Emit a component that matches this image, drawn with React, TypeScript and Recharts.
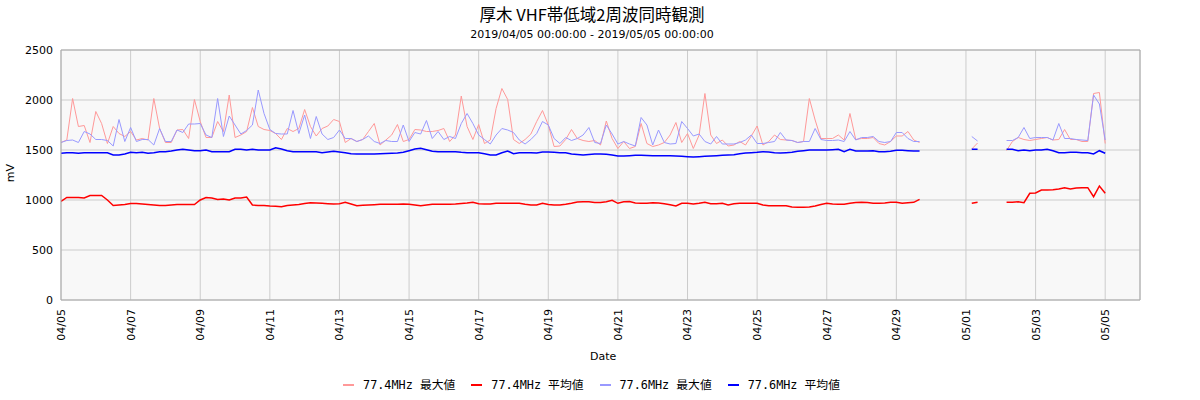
import React from "react";
import { LineChart, Line, XAxis, YAxis, CartesianGrid, ReferenceLine } from "recharts";

const TITLE = "厚木 VHF帯低域2周波同時観測";
const SUBTITLE = "2019/04/05 00:00:00 - 2019/05/05 00:00:00";
const X_LABEL = "Date";
const Y_LABEL = "mV";

const TICK_LABELS = ["04/05", "04/07", "04/09", "04/11", "04/13", "04/15", "04/17", "04/19", "04/21", "04/23", "04/25", "04/27", "04/29", "05/01", "05/03", "05/05"];
const Y_TICKS = [0, 500, 1000, 1500, 2000, 2500];
const STEP_HOURS = 4;
const TICK_STEP_HOURS = 48;
const X_MAX_HOURS = 744;

const SERIES_NAMES = ["77.4MHz 最大値", "77.4MHz 平均値", "77.6MHz 最大値", "77.6MHz 平均値"];
const SERIES_COLORS = ["#ff9999", "#ff0000", "#9999ff", "#0000ff"];

const N8 = [null, null, null, null, null, null, null, null];
const N4 = [null, null, null, null];

const max774 = [
  1575, 1600, 2015, 1735, 1745, 1575, 1885, 1765, 1565, 1735,
  1665, 1635, 1685, 1600, 1615, 1600, 2015, 1715, 1575, 1575,
  1700, 1705, 1615, 2005, 1785, 1625, 1625, 1785, 1685, 2050,
  1625, 1650, 1685, 1925, 1735, 1705, 1695, 1665, 1605, 1715,
  1685, 1715, 1905, 1735, 1640, 1715, 1740, 1805, 1785, 1575,
  1615, 1585, 1605, 1685, 1765, 1550, 1600, 1650, 1755, 1585,
  1605, 1705, 1700, 1685, 1685, 1695, 1715, 1585, 1650, 2040,
  1735, 1605, 1755, 1565, 1600, 1915, 2115, 2005, 1605, 1565,
  1605, 1660, 1785, 1895, 1750, 1535, 1540, 1605, 1705, 1615,
  1595, 1585, 1595, 1550, 1790, 1615, 1515, 1585, 1515, 1535,
  1765, 1565, 1535, 1550, 1575, 1650, 1775, 1575, 1665, 1515,
  1650, 2065, 1650, 1565, 1600, 1540, 1550, 1585, 1550, 1640,
  1740, 1550, 1585, 1650, 1605, 1600, 1595, 1575, 1585, 2015,
  1800, 1615, 1615, 1615, 1650, 1600, 1865, 1605, 1615, 1615,
  1625, 1565, 1550, 1585, 1640, 1640, 1685, 1600, 1575,
  ...N8,
  1510, 1570,
  ...N4,
  1495, 1585, 1625, 1605, 1595, 1605, 1615, 1625, 1600, 1605,
  1705, 1605, 1605, 1585, 1585, 2065, 2075, 1565,
];

const avg774 = [
  985, 1025, 1025, 1025, 1020, 1045, 1045, 1045, 1000, 945,
  950, 955, 965, 965, 960, 955, 950, 945, 945, 950,
  955, 955, 955, 955, 1000, 1025, 1020, 1005, 1010, 1000,
  1020, 1020, 1030, 950, 945, 945, 940, 937, 933, 945,
  950, 955, 965, 973, 970, 967, 963, 960, 963, 977,
  960, 943, 947, 950, 953, 957, 957, 957, 957, 960,
  957, 950, 943, 950, 957, 957, 957, 957, 960, 965,
  970, 977, 963, 960, 960, 967, 967, 967, 967, 967,
  957, 950, 950, 967, 955, 950, 950, 957, 967, 980,
  983, 983, 975, 975, 983, 997, 967, 983, 985, 970,
  967, 967, 973, 970, 963, 953, 940, 967, 967, 960,
  967, 977, 963, 963, 967, 950, 963, 967, 967, 967,
  967, 950, 943, 943, 943, 943, 930, 927, 927, 930,
  940, 955, 967, 960, 957, 957, 967, 975, 977, 975,
  967, 967, 970, 977, 977, 967, 973, 977, 1007,
  ...N8,
  967, 977,
  ...N4,
  977, 977, 983, 973, 1067, 1070, 1100, 1100, 1103, 1110,
  1123, 1110, 1120, 1123, 1123, 1033, 1140, 1067,
];

const max776 = [
  1575, 1595, 1600, 1575, 1685, 1660, 1605, 1605, 1595, 1540,
  1805, 1585, 1725, 1585, 1605, 1605, 1550, 1715, 1585, 1585,
  1700, 1675, 1760, 1760, 1765, 1650, 1625, 2015, 1635, 1840,
  1750, 1660, 1695, 1750, 2100, 1865, 1705, 1665, 1660, 1660,
  1895, 1665, 1850, 1615, 1835, 1660, 1605, 1625, 1700, 1615,
  1615, 1585, 1605, 1640, 1585, 1565, 1595, 1585, 1585, 1750,
  1585, 1675, 1660, 1795, 1615, 1685, 1605, 1635, 1615, 1765,
  1865, 1765, 1650, 1605, 1560, 1650, 1715, 1700, 1675, 1600,
  1560, 1605, 1665, 1785, 1750, 1615, 1565, 1625, 1595, 1615,
  1650, 1725, 1575, 1565, 1750, 1660, 1560, 1585, 1560, 1540,
  1825, 1750, 1550, 1700, 1575, 1560, 1565, 1785, 1715, 1640,
  1660, 1585, 1560, 1635, 1560, 1560, 1560, 1575, 1600, 1650,
  1565, 1565, 1575, 1585, 1675, 1600, 1595, 1575, 1585, 1585,
  1715, 1605, 1595, 1595, 1600, 1585, 1685, 1600, 1625, 1625,
  1635, 1585, 1575, 1585, 1675, 1675, 1615, 1585, 1585,
  ...N8,
  1635, 1590,
  ...N4,
  1595, 1595, 1625, 1725, 1615, 1625, 1625, 1625, 1600, 1765,
  1615, 1615, 1605, 1600, 1595, 2050, 1960, 1600,
];

const avg776 = [
  1467, 1473, 1473, 1467, 1473, 1473, 1473, 1473, 1473, 1450,
  1450, 1460, 1477, 1473, 1477, 1467, 1473, 1483, 1483, 1490,
  1500, 1507, 1500, 1493, 1493, 1500, 1483, 1483, 1483, 1483,
  1507, 1507, 1500, 1507, 1500, 1500, 1500, 1523, 1510, 1493,
  1483, 1483, 1483, 1483, 1483, 1473, 1480, 1487, 1480, 1473,
  1462, 1460, 1460, 1460, 1460, 1462, 1465, 1467, 1470, 1477,
  1493, 1510, 1517, 1503, 1487, 1483, 1483, 1483, 1483, 1477,
  1473, 1473, 1473, 1463, 1450, 1450, 1473, 1490, 1463, 1473,
  1473, 1473, 1470, 1480, 1480, 1477, 1473, 1473, 1460, 1455,
  1450, 1455, 1460, 1460, 1457, 1450, 1440, 1440, 1443, 1447,
  1447, 1445, 1443, 1443, 1443, 1443, 1440, 1437, 1433, 1430,
  1433, 1437, 1440, 1443, 1447, 1450, 1453, 1463, 1470, 1473,
  1477, 1483, 1480, 1473, 1470, 1473, 1477, 1487, 1493, 1500,
  1500, 1500, 1500, 1503, 1507, 1483, 1507, 1490, 1490, 1490,
  1493, 1483, 1483, 1487, 1497, 1497, 1493, 1490, 1490,
  ...N8,
  1507, 1507,
  ...N4,
  1507, 1507, 1493, 1500, 1493, 1500, 1500, 1507, 1493, 1473,
  1473, 1477, 1477, 1473, 1473, 1460, 1493, 1467,
];

const data = max774.map((v, i) => ({
  h: i * STEP_HOURS,
  m774: v,
  a774: avg774[i],
  m776: max776[i],
  a776: avg776[i],
}));

const X_TICKS = TICK_LABELS.map((_, i) => i * TICK_STEP_HOURS);

const MONO = "'DejaVu Sans Mono', 'Noto Sans CJK JP', monospace";
const SANS = "'DejaVu Sans', 'Noto Sans CJK JP', sans-serif";

const RotTick = (props: any) => {
  const { x, y, payload } = props;
  const label = TICK_LABELS[Math.round(payload.value / TICK_STEP_HOURS)];
  const ty = y + 1;
  return (
    <text
      x={x}
      y={ty}
      transform={`rotate(-90 ${x} ${ty})`}
      textAnchor="end"
      dy="0.36em"
      fontSize={11}
      fontFamily={SANS}
      fill="#000"
    >
      {label}
    </text>
  );
};

export default function App() {
  return (
    <div style={{ position: "relative", width: 1200, height: 400, background: "#fff", fontFamily: SANS }}>
      <style>{"body{margin:0}"}</style>
      <div style={{ position: "absolute", left: 0, width: 1184, top: 3, textAlign: "center", fontSize: 16.5, fontFamily: "'Noto Sans CJK JP', sans-serif", lineHeight: "22px", color: "#000" }}>
        {TITLE}
      </div>
      <div style={{ position: "absolute", left: 0, width: 1184, top: 28, textAlign: "center", fontSize: 11, fontFamily: SANS, lineHeight: "14px", color: "#000" }}>
        {SUBTITLE}
      </div>
      <LineChart width={1200} height={400} data={data} margin={{ top: 50, right: 60, bottom: 0, left: 0 }}>
        <CartesianGrid stroke="#cccccc" fill="#f8f8f8" fillOpacity={1} />
        <XAxis
          type="number"
          dataKey="h"
          domain={[0, X_MAX_HOURS]}
          ticks={X_TICKS}
          interval={0}
          tick={<RotTick />}
          tickLine={false}
          axisLine={{ stroke: "#aaaaaa" }}
          height={100}
          allowDataOverflow
        />
        <YAxis
          domain={[0, 2500]}
          ticks={Y_TICKS}
          interval={0}
          width={61}
          tickLine={false}
          axisLine={{ stroke: "#aaaaaa" }}
          tick={{ fontSize: 11, fill: "#000", fontFamily: SANS }}
        />
        <ReferenceLine y={2500} stroke="#aaaaaa" />
        <ReferenceLine x={X_MAX_HOURS} stroke="#aaaaaa" />
        <Line dataKey="m774" stroke={SERIES_COLORS[0]} strokeWidth={1} dot={false} isAnimationActive={false} />
        <Line dataKey="a774" stroke={SERIES_COLORS[1]} strokeWidth={1.5} dot={false} isAnimationActive={false} />
        <Line dataKey="m776" stroke={SERIES_COLORS[2]} strokeWidth={1} dot={false} isAnimationActive={false} />
        <Line dataKey="a776" stroke={SERIES_COLORS[3]} strokeWidth={1.5} dot={false} isAnimationActive={false} />
      </LineChart>
      <div style={{ position: "absolute", left: 590, top: 350, fontSize: 11, fontFamily: SANS, color: "#000", lineHeight: "14px" }}>
        {X_LABEL}
      </div>
      <div style={{ position: "absolute", left: 2, top: 166, fontSize: 11, fontFamily: SANS, color: "#000", lineHeight: "14px", transform: "rotate(-90deg)", transformOrigin: "center" }}>
        {Y_LABEL}
      </div>
      <div style={{ position: "absolute", left: 0, width: 1183, top: 378, display: "flex", justifyContent: "center", fontSize: 11.8, fontFamily: MONO, color: "#000", lineHeight: "14px" }}>
        {SERIES_NAMES.map((n, i) => (
          <div key={n} style={{ display: "flex", alignItems: "center", marginRight: i < 3 ? 16 : 0 }}>
            <div style={{ width: 11, height: 2, background: SERIES_COLORS[i], marginRight: 9 }} />
            <span style={{ whiteSpace: "pre" }}>{n}</span>
          </div>
        ))}
      </div>
    </div>
  );
}
